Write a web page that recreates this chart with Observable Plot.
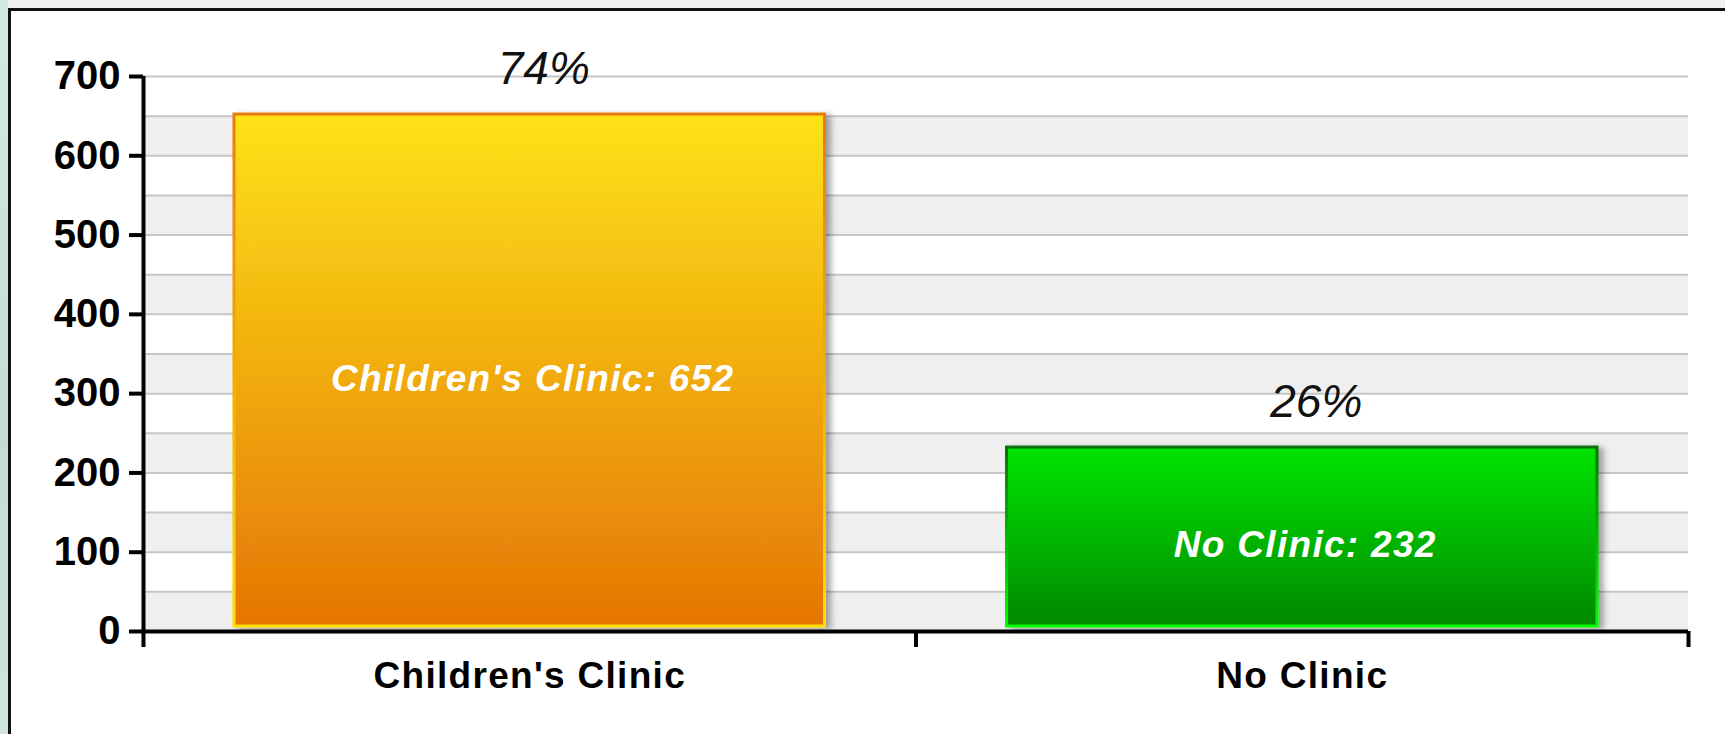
<!DOCTYPE html>
<html>
<head>
<meta charset="utf-8">
<script src="https://cdn.jsdelivr.net/npm/d3@7"></script>
<script src="https://cdn.jsdelivr.net/npm/@observablehq/plot@0.6"></script>
<style>
  html, body { margin: 0; padding: 0; width: 1725px; height: 734px; overflow: hidden; background: #f0f0f0; font-family: "Liberation Sans", Arial, sans-serif; }
  #side { position: absolute; left: 0; top: 0; width: 8px; height: 734px; background: linear-gradient(160deg, #d3e9e4, #c3ddd6 60%, #cfe4df); }
  #frame { position: absolute; left: 8px; top: 8px; width: 1800px; height: 800px; background: #ffffff; border-left: 3px solid #111; border-top: 3px solid #111; }
  #chart { position: absolute; left: 0; top: 0; }
</style>
</head>
<body>
<div id="side"></div>
<div id="frame"></div>
<div id="chart"></div>
<script>
// ---- data ----
const categories = ["Children's Clinic", "No Clinic"];
const counts = [652, 232];
const percentLabels = ["74%", "26%"];
const yTickValues = [0, 100, 200, 300, 400, 500, 600, 700];
const fillGradients = ["url(#gradOrange)", "url(#gradGreen)"];
const strokeGradients = ["url(#strokeOrange)", "url(#strokeGreen)"];

const data = categories.map((c, i) => ({
  i, category: c, value: counts[i], pct: percentLabels[i],
  label: `${c}: ${counts[i]}`,
  fill: fillGradients[i], stroke: strokeGradients[i]
}));

const bandStarts = d3.range(0, 700, 100);  // alternating shaded bands
const gridValues = d3.range(50, 701, 50);

const plot = Plot.plot({
  width: 1725,
  height: 734,
  marginLeft: 143,
  marginRight: 37,
  marginTop: 76,
  marginBottom: 103,
  style: { background: "transparent", fontFamily: "'Liberation Sans', Arial, sans-serif", overflow: "visible" },
  x: { domain: [0, categories.length] },
  y: { domain: [0, 700] },
  color: { type: "identity" },
  marks: [
    Plot.rect(bandStarts, { y1: d => d, y2: d => d + 50, fill: "#efefef" }),
    Plot.ruleY(gridValues, { stroke: "#c6c6c6", strokeWidth: 2 }),
    Plot.rectY(data, {
      x1: "i", x2: d => d.i + 1, y: "value",
      insetLeft: 91, insetRight: 91, insetBottom: 5,
      fill: "fill", stroke: "stroke", strokeWidth: 3
    }),
    Plot.text(data, {
      x: d => d.i + 0.5, y: d => d.value / 2, text: "label",
      fill: "white", fontSize: 37, fontWeight: "bold", fontStyle: "italic",
      dx: 3, dy: 6
    }),
    Plot.text(data, {
      x: d => d.i + 0.5, y: "value", text: "pct",
      fill: "#111", fontSize: 46, fontStyle: "italic",
      dx: 14, dy: -45
    }),
    Plot.ruleY([0], { stroke: "black", strokeWidth: 4 }),
    Plot.ruleX([0], { y1: 0, y2: 700, stroke: "black", strokeWidth: 4 }),
    Plot.axisY({
      ticks: yTickValues, tickSize: 14, tickPadding: 9, label: null,
      fontSize: 40, fontWeight: "bold", stroke: "black", fill: "black", strokeWidth: 4
    }),
    Plot.axisX({
      ticks: d3.range(0, categories.length + 1), tickSize: 16, tickFormat: () => "",
      label: null, stroke: "black", strokeWidth: 4
    }),
    Plot.axisX({
      ticks: categories.map((c, i) => i + 0.5), tickFormat: v => categories[Math.floor(v)],
      tickSize: 0, tickPadding: 30, label: null,
      fontSize: 37, fontWeight: "bold", fill: "black"
    })
  ]
});

// gradients & shadow
const svg = d3.select(plot);
const defs = svg.insert("defs", ":first-child");
function grad(id, top, bottom) {
  const g = defs.append("linearGradient").attr("id", id)
    .attr("x1", 0).attr("y1", 0).attr("x2", 0).attr("y2", 1);
  g.append("stop").attr("offset", "0%").attr("stop-color", top);
  g.append("stop").attr("offset", "100%").attr("stop-color", bottom);
}
grad("gradOrange", "#fde318", "#e57504");
grad("gradGreen", "#00e400", "#008800");
grad("strokeOrange", "#ea7a0a", "#ffe000");
grad("strokeGreen", "#0a700a", "#00ff00");
const f = defs.append("filter").attr("id", "shadow")
  .attr("x", "-5%").attr("y", "-5%").attr("width", "115%").attr("height", "115%");
f.append("feDropShadow").attr("dx", 5).attr("dy", 2).attr("stdDeviation", 3)
  .attr("flood-color", "#000").attr("flood-opacity", 0.35);
const rects = plot.querySelectorAll('g[aria-label="rect"]');
if (rects.length > 1) rects[1].setAttribute("filter", "url(#shadow)");

// letter spacing for the wide bold labels
svg.selectAll('g[aria-label="text"]').filter(function() {
  return this.getAttribute("fill") === "white";
}).style("letter-spacing", "1.3px");
const xLabelGroups = plot.querySelectorAll('g[aria-label="x-axis tick label"]');
xLabelGroups.forEach(g => g.style.letterSpacing = "1.3px");

document.getElementById("chart").appendChild(plot);
</script>
</body>
</html>
